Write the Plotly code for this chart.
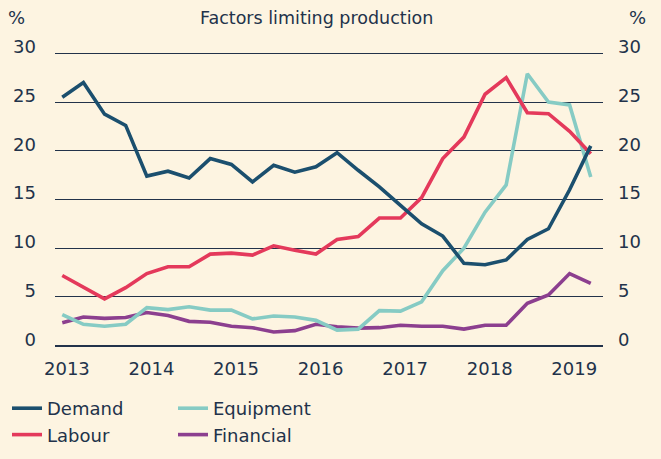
import plotly.graph_objects as go

# Quarterly observations, 2013 Q1 .. 2019 Q2
years = [2013, 2014, 2015, 2016, 2017, 2018, 2019]
quarters = [y + q / 4 for y in years for q in range(4)][:26]

demand = [25.5, 27.0, 23.75, 22.6, 17.4, 17.9, 17.2, 19.2, 18.6, 16.8, 18.5, 17.8, 18.35,
          19.8, 18.0, 16.3, 14.4, 12.5, 11.25, 8.45, 8.3, 8.8, 10.9, 12.0, 16.0, 20.5]
labour = [7.2, 6.0, 4.8, 5.95, 7.4, 8.1, 8.1, 9.4, 9.5, 9.3, 10.25, 9.8, 9.4,
          10.9, 11.2, 13.1, 13.1, 15.2, 19.2, 21.4, 25.8, 27.5, 23.9, 23.8, 22.0, 19.7]
equipment = [3.2, 2.2, 2.0, 2.2, 3.9, 3.7, 4.0, 3.65, 3.65, 2.75, 3.05, 2.95, 2.6,
             1.6, 1.7, 3.6, 3.55, 4.5, 7.7, 10.0, 13.7, 16.5, 27.9, 25.0, 24.7, 17.3]
financial = [2.35, 2.95, 2.8, 2.9, 3.4, 3.1, 2.5, 2.4, 2.0, 1.85, 1.4, 1.55, 2.2,
             1.95, 1.8, 1.85, 2.1, 2.0, 2.0, 1.7, 2.1, 2.1, 4.35, 5.2, 7.4, 6.4]

y_ticks = [0, 5, 10, 15, 20, 25, 30]
x_tick_labels = [str(y) for y in years]

W, H = 661, 459
ML, MR, MT, MB = 55, 58, 35, 100
PW, PH = W - ML - MR, H - MT - MB

BG = "#FDF4E1"
TXT = "#22324A"
FONT = "DejaVu Sans"
colors = {"Demand": "#1B4F6E", "Labour": "#E4395B",
          "Equipment": "#86CBC4", "Financial": "#8C3F8F"}

PAD = 0.5                 # range padding (data units) so the 30 gridline is drawn
PX_PER_UNIT = 9.757
PADPX = PAD * PX_PER_UNIT
TOP30, BOT0 = 53.3, 345.7  # pixel rows of the 30 and 0 gridlines
LBL_SHIFT = 6.5            # tick labels sit slightly above their gridline


def ydom(top_px, bot_px):
    return [(H - MB - bot_px) / PH, (H - MB - top_px) / PH]


fig = go.Figure()
series = [("Financial", financial, "legend2"), ("Equipment", equipment, "legend2"),
          ("Labour", labour, "legend"), ("Demand", demand, "legend")]
for name, vals, lg in series:
    fig.add_trace(go.Scatter(x=quarters, y=vals, mode="lines", name=name,
                             line=dict(color=colors[name], width=3.6),
                             legend=lg, hoverinfo="x+y+name"))

# empty traces so the label-only axes are drawn
for ax in ["y2", "y3"]:
    fig.add_trace(go.Scatter(x=[quarters[0]], y=[None], yaxis=ax, showlegend=False,
                             hoverinfo="skip", mode="lines"))

yr = [-PAD, 30 + PAD]
main_dom = ydom(TOP30 - PADPX, BOT0 + PADPX)
lbl_dom = ydom(TOP30 - PADPX - LBL_SHIFT, BOT0 + PADPX - LBL_SHIFT)

fig.update_layout(
    width=W, height=H,
    paper_bgcolor=BG, plot_bgcolor="rgba(0,0,0,0)",
    margin=dict(l=ML, r=MR, t=MT, b=MB, autoexpand=False),
    font=dict(family=FONT, size=18, color=TXT),
    showlegend=True,
    legend=dict(x=7 / W, y=1 - 390 / H, xref="container", yref="container",
                xanchor="left", yanchor="top", orientation="v",
                bgcolor="rgba(0,0,0,0)", traceorder="reversed",
                font=dict(size=18, color=TXT)),
    legend2=dict(x=173 / W, y=1 - 390 / H, xref="container", yref="container",
                 xanchor="left", yanchor="top", orientation="v",
                 bgcolor="rgba(0,0,0,0)", traceorder="reversed",
                 font=dict(size=18, color=TXT)),
    xaxis=dict(range=[2012.914, 2019.395], showgrid=False, zeroline=False,
               tickvals=[y + 0.055 for y in years], ticktext=x_tick_labels,
               ticks="", showline=False, ticklabelstandoff=5, automargin=False,
               tickfont=dict(size=18, color=TXT), anchor="y"),
    yaxis=dict(range=yr, tickvals=y_ticks, domain=main_dom,
               showgrid=True, gridcolor=TXT, gridwidth=1.3,
               zeroline=True, zerolinecolor=TXT, zerolinewidth=2,
               showticklabels=False, ticks="", automargin=False),
    yaxis2=dict(range=yr, tickvals=y_ticks, domain=lbl_dom,
                anchor="free", position=0, side="left",
                showgrid=False, zeroline=False, ticks="", ticklabelstandoff=19,
                automargin=False, tickfont=dict(size=18, color=TXT)),
    yaxis3=dict(range=yr, tickvals=y_ticks, domain=lbl_dom,
                anchor="free", position=1, side="right",
                showgrid=False, zeroline=False, ticks="", ticklabelstandoff=14,
                automargin=False, tickfont=dict(size=18, color=TXT)),
)


def ann(text, px, py, size=18):
    return dict(text=text, xref="paper", yref="paper",
                x=(px - ML) / PW, y=(H - MB - py) / PH,
                xanchor="center", yanchor="middle", showarrow=False,
                font=dict(size=size, color=TXT, family=FONT))


fig.update_layout(annotations=[
    ann("Factors limiting production", 316.5, 18, 17.5),
    ann("%", 16, 18),
    ann("%", 637, 18),
])

fig.write_html("out.html",
               config={"displayModeBar": False},
               post_script="document.body.style.margin='0';document.body.style.padding='0';")
